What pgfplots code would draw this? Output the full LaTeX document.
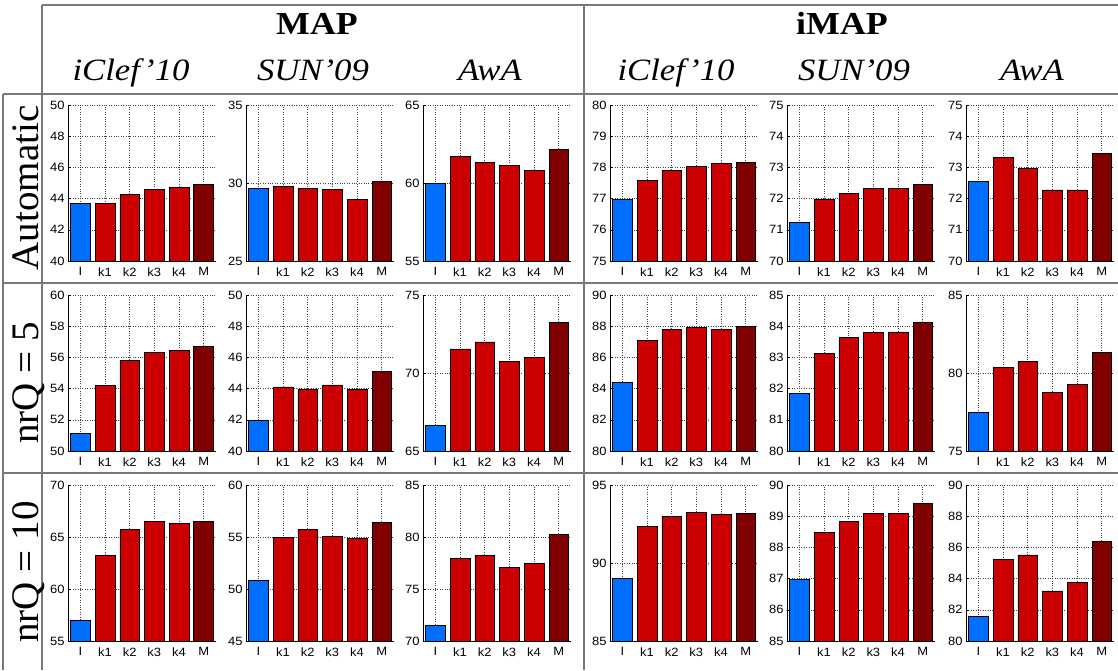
\documentclass[border=0pt]{standalone}
\usepackage{fontspec}
\setmainfont{Liberation Serif}
\newfontfamily\hdfont[FakeStretch=1.12]{Liberation Serif}
\newfontfamily\tickfont[FakeStretch=1.08]{Liberation Sans}
\usepackage{pgfplots}
\pgfplotsset{compat=1.18}
\definecolor{cI}{RGB}{0,110,255}
\definecolor{cK}{RGB}{204,0,0}
\definecolor{cM}{RGB}{128,0,0}
\definecolor{tline}{RGB}{120,120,120}
\pgfplotsset{panel/.style={
  width=148pt, height=156pt, scale only axis,
  xmin=0.5, xmax=6.5,
  xtick={1,...,6}, xticklabels={I,k1,k2,k3,k4,M},
  axis x line*=bottom, axis y line*=left,
  axis line style={black, line width=0.8pt, -},
  xmajorgrids, ymajorgrids,
  major grid style={dotted, black!75, line width=0.5pt},
  tick label style={font=\tickfont\fontsize{12}{14}\selectfont},
  /pgf/number format/assume math mode=true,
  xtick style={draw=none},
  ytick style={black, line width=0.5pt},
  tick align=inside, major tick length=3pt,
  ybar, bar width=0.8,
  every axis plot/.append style={bar shift=0pt, draw=black, line width=0.6pt},
  anchor=south west,
}}
\newcommand\panel[8]{%
\begin{axis}[panel, at={(#1pt,#2pt)}, ymin=#3, ymax=#4, ytick={#5}]
\addplot[fill=cI] coordinates {(1,#6)};
\addplot[fill=cK] coordinates {#7};
\addplot[fill=cM] coordinates {(6,#8)};
\end{axis}}
\begin{document}
\begin{tikzpicture}[x=1pt,y=1pt]
\useasboundingbox (0,0) rectangle (1118,670);
% table lines
\begin{scope}[tline, line width=1.5pt]
\draw (42,665) -- (1118,665);
\draw (3,576) -- (1118,576);
\draw (3,387) -- (1118,387);
\draw (3,197) -- (1118,197);
\draw (3,0) -- (3,576);
\draw (42,0) -- (42,665);
\draw (584,0) -- (584,665);
\end{scope}
% headers
\node[anchor=base, font=\hdfont\fontsize{32}{34}\selectfont\bfseries] at (317,635) {MAP};
\node[anchor=base, font=\hdfont\fontsize{32}{34}\selectfont\bfseries] at (842,635) {iMAP};
\foreach \xx/\tt in {131/iClef’10, 313/SUN’09, 490/AwA, 676/iClef’10, 854/SUN’09, 1032/AwA}
  \node[anchor=base, font=\hdfont\fontsize{31}{33}\selectfont\itshape] at (\xx,589) {\tt};
\node[anchor=base, rotate=90, font=\fontsize{39}{41}\selectfont] at (38,482) {Automatic};
\node[anchor=base, rotate=90, font=\fontsize{39}{41}\selectfont] at (38,287) {nrQ = 5};
\node[anchor=base, rotate=90, font=\fontsize{39}{41}\selectfont] at (38,98) {nrQ = 10};
% row 1: Automatic
\panel{68}{409}{40}{50}{40,42,...,50}{43.73}{(2,43.68) (3,44.26) (4,44.58) (5,44.73)}{44.90}
\panel{246}{409}{25}{35}{25,30,35}{29.64}{(2,29.76) (3,29.66) (4,29.60) (5,28.96)}{30.13}
\panel{423}{409}{55}{65}{55,60,65}{59.96}{(2,61.71) (3,61.30) (4,61.15) (5,60.83)}{62.16}
\panel{610}{409}{75}{80}{75,...,80}{76.98}{(2,77.58) (3,77.91) (4,78.04) (5,78.14)}{78.15}
\panel{787}{409}{70}{75}{70,...,75}{71.23}{(2,71.99) (3,72.16) (4,72.33) (5,72.32)}{72.45}
\panel{966}{409}{70}{75}{70,...,75}{72.55}{(2,73.32) (3,72.97) (4,72.28) (5,72.28)}{73.45}
% row 2: nrQ = 5
\panel{68}{219}{50}{60}{50,52,...,60}{51.16}{(2,54.20) (3,55.80) (4,56.34) (5,56.47)}{56.68}
\panel{246}{219}{40}{50}{40,42,...,50}{41.95}{(2,44.11) (3,43.98) (4,44.24) (5,43.94)}{45.10}
\panel{423}{219}{65}{75}{65,70,75}{66.67}{(2,71.54) (3,71.99) (4,70.73) (5,71.00)}{73.27}
\panel{610}{219}{80}{90}{80,82,...,90}{84.43}{(2,87.09) (3,87.77) (4,87.94) (5,87.79)}{87.99}
\panel{787}{219}{80}{85}{80,...,85}{81.86}{(2,83.12) (3,83.63) (4,83.79) (5,83.82)}{84.11}
\panel{966}{219}{75}{85}{75,80,85}{77.48}{(2,80.34) (3,80.73) (4,78.78) (5,79.29)}{81.30}
% row 3: nrQ = 10
\panel{68}{29}{55}{70}{55,60,...,70}{57.03}{(2,63.20) (3,65.70) (4,66.48) (5,66.32)}{66.51}
\panel{246}{29}{45}{60}{45,50,...,60}{50.82}{(2,55.00) (3,55.74) (4,55.03) (5,54.87)}{56.45}
\panel{423}{29}{70}{85}{70,75,...,85}{71.48}{(2,77.94) (3,78.23) (4,77.04) (5,77.49)}{80.26}
\panel{610}{29}{85}{95}{85,90,95}{89.03}{(2,92.34) (3,93.01) (4,93.24) (5,93.14)}{93.20}
\panel{787}{29}{85}{90}{85,...,90}{86.97}{(2,88.49) (3,88.83) (4,89.08) (5,89.08)}{89.41}
\panel{966}{29}{80}{90}{80,82,...,90}{81.56}{(2,85.22) (3,85.52) (4,83.21) (5,83.75)}{86.38}
\end{tikzpicture}
\end{document}
